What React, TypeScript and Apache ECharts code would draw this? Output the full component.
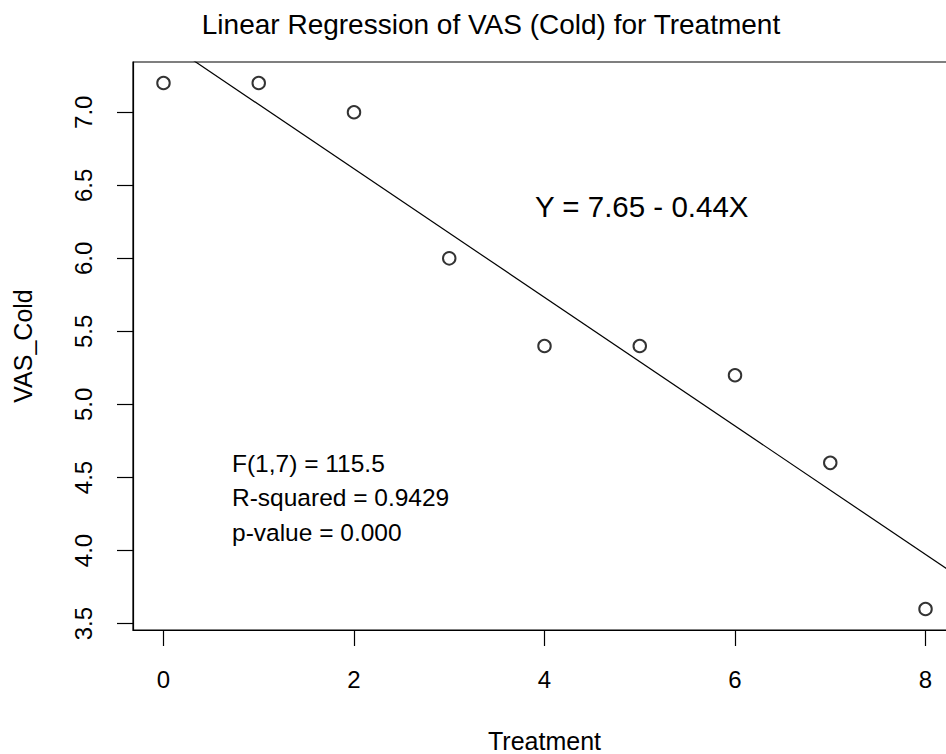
import React, { useEffect, useRef } from "react";
import * as echarts from "echarts";

const treatment = [0, 1, 2, 3, 4, 5, 6, 7, 8];
const vasCold = [7.2, 7.2, 7.0, 6.0, 5.4, 5.4, 5.2, 4.6, 3.6];
const xTicks = [0, 2, 4, 6, 8];
const yTicks = [3.5, 4.0, 4.5, 5.0, 5.5, 6.0, 6.5, 7.0];
const fitIntercept = 7.493;
const fitSlope = -0.44;
const xRange = [-0.32, 8.32];
const yRange = [3.456, 7.344];
const titleText = "Linear Regression of VAS (Cold) for Treatment";
const eqText = "Y = 7.65 - 0.44X";
const statLines = ["F(1,7) = 115.5", "R-squared = 0.9429", "p-value = 0.000"];

const FONT = "'Liberation Sans', Arial, Helvetica, sans-serif";

export default function App() {
  const ref = useRef<HTMLDivElement>(null);
  useEffect(() => {
    if (!ref.current) return;
    const chart = echarts.init(ref.current, null, { renderer: "svg" });
    const points = treatment.map((x, i) => [x, vasCold[i]]);
    const fitLine = xRange.map((x) => [x, fitIntercept + fitSlope * x]);
    chart.setOption({
      animation: false,
      backgroundColor: "#ffffff",
      textStyle: { fontFamily: FONT, color: "#000" },
      grid: {
        left: 133,
        top: 62,
        width: 823,
        height: 568,
        show: true,
        borderColor: "#000",
        borderWidth: 1.2,
        containLabel: false,
        outerBoundsMode: "none",
      },
      xAxis: {
        type: "value",
        min: xRange[0],
        max: xRange[1],
        name: "Treatment",
        nameLocation: "middle",
        nameGap: 98,
        nameTextStyle: { fontFamily: FONT, fontSize: 25, color: "#000" },
        splitLine: { show: false },
        axisLine: { show: true, onZero: false, lineStyle: { color: "#000", width: 1.2 } },
        axisTick: { show: true, length: 16, inside: false, customValues: xTicks, lineStyle: { color: "#000", width: 1.2 } },
        axisLabel: {
          customValues: xTicks,
          margin: 37,
          fontFamily: FONT,
          fontSize: 24,
          color: "#000",
          formatter: (v: number) => String(v),
        },
      },
      yAxis: {
        type: "value",
        min: yRange[0],
        max: yRange[1],
        name: "VAS_Cold",
        nameLocation: "middle",
        nameGap: 98,
        nameRotate: 90,
        nameTextStyle: { fontFamily: FONT, fontSize: 25, color: "#000" },
        splitLine: { show: false },
        axisLine: { show: true, onZero: false, lineStyle: { color: "#000", width: 1.2 } },
        axisTick: { show: true, length: 16, inside: false, customValues: yTicks, lineStyle: { color: "#000", width: 1.2 } },
        axisLabel: {
          customValues: yTicks,
          rotate: 90,
          margin: 38,
          fontFamily: FONT,
          fontSize: 24,
          color: "#000",
          formatter: (v: number) => v.toFixed(1),
        },
      },
      series: [
        {
          type: "scatter",
          data: points,
          symbol: "emptyCircle",
          symbolSize: 12.5,
          itemStyle: { color: "#000", borderColor: "#000", borderWidth: 1.2 },
          z: 3,
        },
        {
          type: "line",
          data: fitLine,
          showSymbol: false,
          symbol: "none",
          clip: true,
          lineStyle: { color: "#000", width: 1.2 },
          z: 2,
        },
      ],
      graphic: [
        {
          type: "text",
          x: 491,
          y: 24,
          style: { text: titleText, font: `28px ${FONT}`, fill: "#000", textAlign: "center", textVerticalAlign: "middle" },
        },
        {
          type: "text",
          x: 535,
          y: 206,
          style: { text: eqText, font: `29.5px ${FONT}`, fill: "#000", textAlign: "left", textVerticalAlign: "middle" },
        },
        ...statLines.map((t, i) => ({
          type: "text",
          x: 232,
          y: 463 + i * 34.5,
          style: { text: t, font: `24.5px ${FONT}`, fill: "#000", textAlign: "left", textVerticalAlign: "middle" },
        })),
      ],
    });
    return () => chart.dispose();
  }, []);
  return (
    <div
      ref={ref}
      style={{ position: "absolute", left: 0, top: 0, width: 946, height: 754, background: "#fff" }}
    />
  );
}
